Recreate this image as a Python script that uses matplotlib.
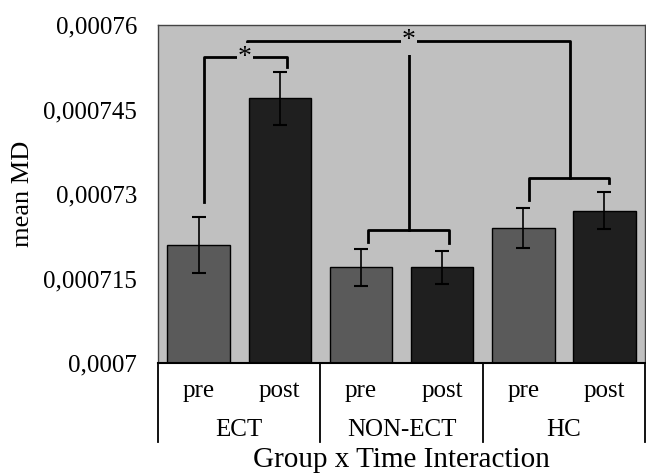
import numpy as np
import matplotlib
matplotlib.use('Agg')
import matplotlib.pyplot as plt
import matplotlib.transforms as mtransforms

groups = ['ECT', 'NON-ECT', 'HC']
times = ['pre', 'post']
means = [0.000721, 0.000747, 0.000717, 0.000717, 0.000724, 0.000727]
errors = [0.0000050, 0.0000047, 0.0000033, 0.0000029, 0.0000036, 0.0000033]
yticks = [0.0007, 0.000715, 0.00073, 0.000745, 0.00076]
ytick_labels = ['0,0007', '0,000715', '0,00073', '0,000745', '0,00076']

plt.rcParams['font.family'] = ['Liberation Serif', 'DejaVu Serif']

fig = plt.figure(figsize=(6.46, 4.76), dpi=100)
ax = fig.add_axes([0.2446, 0.2374, 0.7539, 0.7101])
ax.set_facecolor('#c0c0c0')

x = np.arange(len(means))
colors = ['#5a5a5a', '#1f1f1f'] * len(groups)
ax.bar(x, [m - 0.0007 for m in means], bottom=0.0007, width=0.77,
       color=colors, edgecolor='black', linewidth=1.0, zorder=2)
ax.errorbar(x, means, yerr=errors, fmt='none', ecolor='black',
            elinewidth=1.2, capsize=5, capthick=1.5, zorder=3)

ax.set_xlim(-0.5, len(means) - 0.5)
ax.set_ylim(0.0007, 0.00076)
ax.set_yticks(yticks)
ax.set_yticklabels(ytick_labels, fontsize=18)
ax.tick_params(axis='y', length=0, pad=15)
ax.set_xticks([])
for s in ['top', 'left', 'right']:
    ax.spines[s].set_color('#444444')
    ax.spines[s].set_linewidth(1.0)
ax.spines['bottom'].set_color('black')
ax.spines['bottom'].set_linewidth(1.5)

ax.set_ylabel('mean MD', fontsize=19, va='center')
ax.yaxis.set_label_coords(-0.278, 0.5)

# category labels below the axis
trans = mtransforms.blended_transform_factory(ax.transData, ax.transAxes)
for i in x:
    ax.text(i, -0.083, times[i % 2], transform=trans, ha='center', va='center',
            fontsize=18)
for g, name in enumerate(groups):
    ax.text(2 * g + 0.5, -0.198, name, transform=trans, ha='center',
            va='center', fontsize=18)
for b in np.arange(len(groups) + 1) * 2 - 0.5:
    ax.plot([b, b], [0, -0.234], transform=trans, color='black', lw=1.3,
            clip_on=False)
ax.text(0.5, -0.309, 'Group x Time Interaction', transform=ax.transAxes,
        ha='center', va='baseline', fontsize=21)

# significance brackets
lw = 2.0
bg = '#c0c0c0'
# ECT pre vs post
ax.plot([0.07, 0.07, 1.09, 1.09], [0.0007286, 0.0007543, 0.0007543, 0.0007525],
        color='black', lw=lw, zorder=4)
ax.text(0.57, 0.0007543, '*', ha='center', va='center', fontsize=20,
        zorder=5, bbox=dict(fc=bg, ec='none', pad=1))
# NON-ECT bracket
ax.plot([2.09, 2.09, 3.08, 3.08], [0.0007215, 0.0007236, 0.0007236, 0.0007213],
        color='black', lw=lw, zorder=4)
# HC bracket
ax.plot([4.07, 4.07, 5.05, 5.05], [0.0007289, 0.0007328, 0.0007328, 0.000732],
        color='black', lw=lw, zorder=4)
# ECT post vs others
ax.plot([0.6, 0.6, 4.57, 4.57], [0.0007559, 0.0007572, 0.0007572, 0.0007328],
        color='black', lw=lw, zorder=4)
ax.plot([2.59, 2.59], [0.0007565, 0.0007236], color='black', lw=lw, zorder=4)
ax.text(2.59, 0.0007572, '*', ha='center', va='center', fontsize=20,
        zorder=5, bbox=dict(fc=bg, ec='none', pad=1))

fig.savefig('out.png', dpi=100)
